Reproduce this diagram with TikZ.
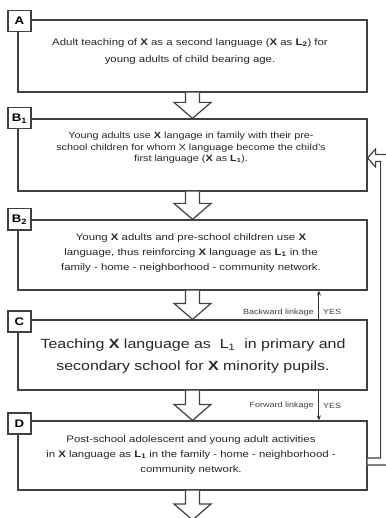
\documentclass[tikz,border=0pt]{standalone}
\usepackage{fontspec}
\setmainfont{Liberation Sans}[FakeStretch=1.2]
\usetikzlibrary{calc,arrows.meta}

\tikzset{
  stagebox/.style={shape=rectangle, draw=black!75, line width=1.2pt, minimum width=349pt, inner sep=0},
  stagetext/.style={align=center, text=black!85, inner sep=0},
  tagbox/.style={shape=rectangle, draw=black!75, line width=1.2pt, fill=white, minimum width=23pt, minimum height=21pt, inner sep=0, font=\bfseries\fontsize{11}{11}\selectfont},
  hollow/.style={draw=black!75, line width=1.2pt, fill=white, line join=miter},
  linkage/.style={draw=black!80, line width=1pt, -{Stealth[length=5pt,width=4pt]}},
  linklabel/.style={font=\fontsize{7.5}{8}\selectfont, text=black!75, inner sep=1pt}
}

% hollow down arrow from the bottom of one box to the top of the next
\newcommand{\hollowdown}[2]{%
  \draw[hollow] ($(#1.south)+(-7,0)$) -- ($(#2.north)+(-7,-16)$) -- ($(#2.north)+(-18.5,-16)$) -- (#2.north)
    -- ($(#2.north)+(18.5,-16)$) -- ($(#2.north)+(7,-16)$) -- ($(#1.south)+(7,0)$);}

\begin{document}
\begin{tikzpicture}[x=1pt, y=-1pt]
        \useasboundingbox (0, 0) rectangle (385, 518);
        % Stage boxes:
        \node[stagebox, minimum height=72pt] (A) at (192.5, 56){};
        \node[stagebox, minimum height=72pt] (B1) at (192.5, 155){};
        \node[stagebox, minimum height=70pt] (B2) at (192.5, 255){};
        \node[stagebox, minimum height=70pt] (C) at (192.5, 355){};
        \node[stagebox, minimum height=69pt] (D) at (192.5, 455.5){};
        \coordinate (End) at (192.5, 520);
        % Texts:
        \node[stagetext, font=\fontsize{9.5}{17}\selectfont] (Atext) at (190, 51.5){Adult teaching of \textbf{X} as a second language (\textbf{X} as \textbf{L\textsubscript{2}}) for\\young adults of child bearing age.};
        \node[stagetext, font=\fontsize{9}{11.5}\selectfont] (B1text) at (191, 148){Young adults use \textbf{X} langage in family with their pre-\\school children for whom X language become the child's\\first language (\textbf{X} as \textbf{L\textsubscript{1}}).};
        \node[stagetext, font=\fontsize{9.5}{15}\selectfont] (B2text) at (191, 253){Young \textbf{X} adults and pre-school children use \textbf{X}\\language, thus reinforcing \textbf{X} language as \textbf{L\textsubscript{1}} in the\\family - home - neighborhood - community network.};
        \node[stagetext, font=\fontsize{13.3}{22}\selectfont] (Ctext) at (193, 356){Teaching \textbf{X} language as~~L\textsubscript{1}~~in primary and\\secondary school for \textbf{X} minority pupils.};
        \node[stagetext, font=\fontsize{9.5}{15}\selectfont] (Dtext) at (191, 455){Post-school adolescent and young adult activities\\in \textbf{X} language as \textbf{L\textsubscript{1}} in the family - home - neighborhood -\\community network.};
        % Tags:
        \node[tagbox] (Atag) at ($(A.north west)+(2, 1.5)$){A};
        \node[tagbox] (B1tag) at ($(B1.north west)+(2, 0)$){B\textsubscript{1}};
        \node[tagbox] (B2tag) at ($(B2.north west)+(2, 0)$){B\textsubscript{2}};
        \node[tagbox] (Ctag) at ($(C.north west)+(2, 2)$){C};
        \node[tagbox] (Dtag) at ($(D.north west)+(2, 3)$){D};
        % Hollow arrows:
        \hollowdown{A}{B1}
        \hollowdown{B1}{B2}
        \hollowdown{B2}{C}
        \hollowdown{C}{D}
        \hollowdown{D}{End}
        \draw[hollow] ($(D.east)+(0, 2.5)$) -| ($(B1.east)+(13, 6.5)$) -- ($(B1.east)+(8, 6.5)$) -- ($(B1.east)+(8, 12)$) -- ($(B1.east)+(0, 3)$)
            -- ($(B1.east)+(8, -6)$) -- ($(B1.east)+(8, -0.5)$) -| ($(D.east)+(24, 9.5)$) -- ($(D.east)+(0, 9.5)$);
        % Linkages:
        \coordinate (Back) at ($(C.north west)+(301.5, 0)$);
        \coordinate (Fwd) at ($(C.south west)+(301.5, 0)$);
        \draw[linkage] (Back) -- (Back |- B2.south);
        \draw[linkage] (Fwd) -- (Fwd |- D.north);
        \node[linklabel, anchor=east] (Backlbl) at ($(Back)+(-4, -7)$){Backward linkage};
        \node[linklabel, anchor=west] (Backyes) at ($(Back)+(3, -7)$){YES};
        \node[linklabel, anchor=east] (Fwdlbl) at ($(Fwd)+(-4, 15)$){Forward linkage};
        \node[linklabel, anchor=west] (Fwdyes) at ($(Fwd)+(3, 15)$){YES};
    \end{tikzpicture}
\end{document}
